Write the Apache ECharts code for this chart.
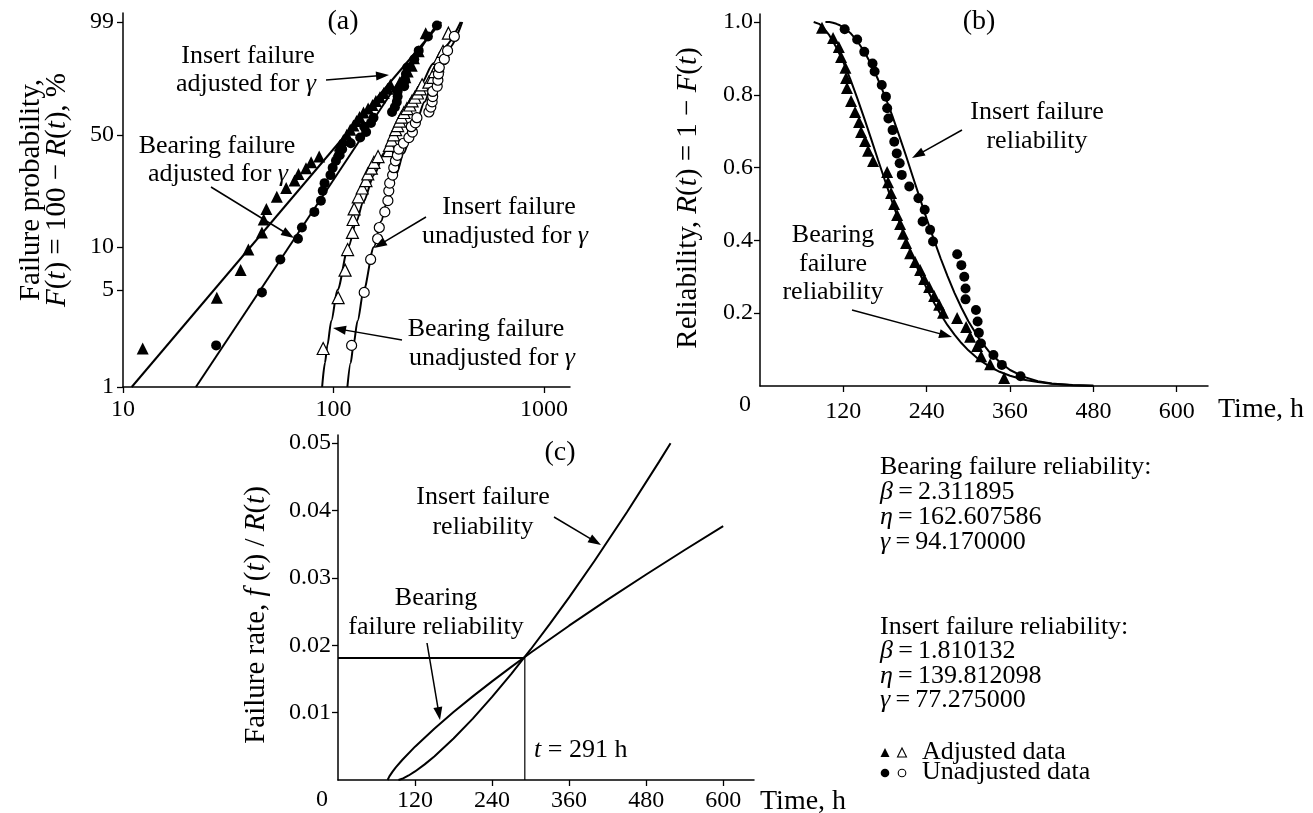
<!DOCTYPE html>
<html><head><meta charset="utf-8">
<script src="https://cdn.jsdelivr.net/npm/echarts@6/dist/echarts.min.js"></script>
<style>html,body{margin:0;padding:0;background:#fff}#c{width:1313px;height:813px}</style>
</head><body><div id="c"></div>
<script>
// ---------------- data ----------------
// tick labels
const aTickT = [10, 100, 1000];          // panel (a) time ticks (log)
const aTickF = [1, 5, 10, 50, 99];       // panel (a) failure probability ticks, %
const bTickT = [120, 240, 360, 480, 600];
const bTickR = [0.2, 0.4, 0.6, 0.8, 1.0];
const cTickT = [120, 240, 360, 480, 600];
const cTickH = [0.01, 0.02, 0.03, 0.04, 0.05];

// triangle data (time, h) unadjusted; adjusted; failure prob %; reliability
const triT    = [89.3,105.2,113.5,116.7,123.0,123.9,125.3,131.1,136.9,142.6,145.5,151.3,155.6,162.8,183.0,184.4,188.7,193.0,197.4,201.7,206.0,210.3,216.1,223.3,230.5,236.3,243.5,250.7,257.9,263.6,283.8,296.8,302.5,312.6,318.4,331.3,351.5];
const triTadj = [12.4,27.9,36.2,39.4,45.7,46.6,48.0,53.8,59.6,65.3,68.2,74.0,78.3,85.5,105.7,107.1,111.4,115.7,120.1,124.4,128.7,133.0,138.8,146.0,153.2,159.0,166.2,173.4,180.6,186.3,206.5,219.5,225.2,235.3,241.1,254.0,274.2];
const triF    = [1.9,4.4,6.9,9.6,12.6,15.4,18.1,21.7,24.7,27.5,30.2,32.7,35.4,38.2,41.2,44.0,47.0,50.0,53.0,55.5,58.2,60.7,63.5,65.9,68.1,70.6,72.8,75.3,77.7,79.9,81.3,83.8,86.5,89.0,91.8,94.0,97.8];
const triR    = [0.984,0.956,0.931,0.904,0.874,0.846,0.819,0.783,0.753,0.725,0.698,0.673,0.646,0.618,0.588,0.560,0.530,0.500,0.470,0.445,0.418,0.393,0.365,0.341,0.319,0.294,0.272,0.247,0.223,0.201,0.187,0.162,0.135,0.110,0.082,0.060,0.022];

// circle data
const cirT    = [121.9,139.9,150.1,162.0,165.0,175.3,181.3,183.1,184.9,190.9,193.3,196.9,201.1,204.1,214.9,228.1,237.1,234.1,244.9,249.1,283.9,289.9,294.1,295.9,295.9,310.9,313.3,315.1,318.1,336.1,348.2,375.1];
const cirF    = [2.0,4.8,8.2,11.4,13.6,17.3,20.5,23.7,26.5,29.7,32.9,36.1,38.8,42.0,45.2,48.4,51.6,54.8,57.1,60.3,63.8,66.8,70.0,73.2,76.2,79.1,82.3,85.4,88.3,91.5,94.2,97.3];
const cirR    = [0.980,0.952,0.918,0.886,0.864,0.827,0.795,0.763,0.735,0.703,0.671,0.639,0.612,0.580,0.548,0.516,0.484,0.452,0.429,0.397,0.362,0.332,0.300,0.268,0.238,0.209,0.177,0.146,0.117,0.085,0.058,0.027];
const cirTadj = [27.7,45.7,55.9,67.8,70.8,81.1,87.1,88.9,90.7,96.7,99.1,102.7,106.9,109.9,120.7,133.9,142.9,139.9,150.7,154.9,189.7,195.7,199.9,201.7,201.7,216.7,219.1,220.9,223.9,241.9,254.0,280.9,310.0];
const cirFadj = [2.0,4.8,8.2,11.4,13.6,17.3,20.5,23.7,26.5,29.7,32.9,36.1,38.8,42.0,45.2,48.4,51.6,54.8,57.1,60.3,63.8,66.8,70.0,73.2,76.2,79.1,82.3,85.4,88.3,91.5,94.2,97.3,98.7];

// panel (a) fitted lines
const aInsAdjT  = [11.0, 325.0];
const aInsAdjF  = [1, 99];
const aBearAdjT = [22.2, 314.7];
const aBearAdjF = [1, 99];
const aCurveF   = [1,1.5,2,3,5,10,15,20,30,40,50,60,70,80,90,95,99];
const aInsUnT   = [88.3,91.1,93.5,97.6,104.4,117.6,128.5,138.3,156.4,173.8,191.5,210.5,232.2,259.1,298.9,333.6,402.3];
const aBearUnT  = [116.4,120.7,124.3,130.1,139.2,155.6,168.3,179.2,198.3,215.8,232.9,250.8,270.4,294.0,327.4,355.5,408.9];

// panel (b) reliability curves
const bInsT  = [77.3,80,85,90,100,110,120,130,140,150,160,170,180,190,200,210,220,230,240,250,260,270,280,290,300,315,330,345,360,380,400,420,450,480];
const bInsR  = [1.0,0.999,0.995,0.987,0.963,0.930,0.890,0.843,0.791,0.736,0.679,0.621,0.564,0.508,0.454,0.403,0.354,0.309,0.268,0.231,0.197,0.167,0.141,0.118,0.098,0.073,0.054,0.039,0.028,0.017,0.011,0.006,0.003,0.001];
const bBearT = [94.2,100,105,110,115,120,130,140,150,160,170,180,190,200,210,220,230,240,250,260,270,280,290,300,315,330,345,360,380,400,420,450,480];
const bBearR = [1.0,1.0,0.998,0.995,0.991,0.986,0.970,0.948,0.919,0.884,0.842,0.796,0.745,0.690,0.634,0.575,0.517,0.459,0.404,0.351,0.302,0.256,0.215,0.178,0.131,0.094,0.066,0.044,0.025,0.013,0.007,0.002,0.001];

// panel (c) failure rate curves
const cSteepT = [94.2,100,110,120,135,150,180,210,240,270,300,330,360,400,450,500,518];
const cSteepH = [0,0.00018,0.00067,0.00127,0.00232,0.0035,0.00615,0.00911,0.01233,0.01576,0.01937,0.02316,0.0271,0.03258,0.03973,0.04721,0.04997];
const cShalT  = [77.3,80,85,90,100,120,150,180,210,240,270,300,360,420,480,540,600];
const cShalH  = [0,0.00053,0.00124,0.00186,0.00297,0.00495,0.00762,0.01009,0.01241,0.01464,0.01679,0.01888,0.0229,0.02677,0.0305,0.03413,0.03768];
const cRefT = [0, 291];
const cRefH = [0.0181, 0];

// ---------------- helpers ----------------
const FONT = "'Liberation Serif','Times New Roman',serif";
const lg = v => Math.log10(v);
const wb = F => Math.log(-Math.log(1 - F / 100));
const zip = (xs, ys, fx, fy) => xs.map((x, i) => [fx ? fx(x) : x, fy ? fy(ys[i]) : ys[i]]);

function axisBase(gi, ticks, fmt, margin, fontSize) {
  return {
    gridIndex: gi, type: 'value',
    axisLine: { show: true, onZero: false, lineStyle: { color: '#000', width: 1.5 } },
    axisTick: { show: true, customValues: ticks, length: 6, lineStyle: { color: '#000', width: 1.3 } },
    axisLabel: { show: true, customValues: ticks, formatter: fmt, margin: margin, color: '#000', fontFamily: FONT, fontSize: fontSize || 24 },
    splitLine: { show: false }
  };
}
function lineS(xi, data, smooth, w) {
  const s = { type: 'line', xAxisIndex: xi, yAxisIndex: xi, data: data, symbol: 'none', smooth: smooth ? 0.3 : false,
    lineStyle: { color: '#000', width: w || 2 }, silent: true, z: 2, clip: false };
  if (smooth) s.smoothMonotone = 'x';
  return s;
}
function scat(xi, data, sym, filled) {
  return { type: 'scatter', xAxisIndex: xi, yAxisIndex: xi, data: data, symbol: sym,
    symbolSize: sym === 'triangle' ? 12 : 10,
    itemStyle: filled ? { color: '#000', opacity: 1 } : { color: '#fff', borderColor: '#000', borderWidth: 1.2, opacity: 1 },
    silent: true, z: 3 };
}
function T(x, y, s, size, opt) {
  opt = opt || {};
  const al = opt.align || 'center';
  return { type: 'text', x: x, y: y, rotation: opt.rot || 0, z: 100,
    style: { text: s, fontFamily: FONT, fontSize: size, fill: '#000',
      textAlign: al, align: al, textVerticalAlign: 'middle', verticalAlign: 'middle',
      rich: { i: { fontStyle: 'italic', fontFamily: FONT, fontSize: size, fill: '#000' } } } };
}
function arrow(x1, y1, x2, y2) {
  const L = 13, W = 4.5;
  const dx = x2 - x1, dy = y2 - y1, d = Math.hypot(dx, dy), ux = dx / d, uy = dy / d;
  const bx = x2 - ux * L, by = y2 - uy * L;
  return [
    { type: 'line', z: 100, shape: { x1: x1, y1: y1, x2: bx + ux * 2, y2: by + uy * 2 }, style: { stroke: '#000', lineWidth: 1.5 } },
    { type: 'polygon', z: 100, shape: { points: [[x2, y2], [bx - uy * W, by + ux * W], [bx + uy * W, by - ux * W]] }, style: { fill: '#000' } }
  ];
}

// ---------------- option ----------------
const aYfmt = v => { for (const f of aTickF) if (Math.abs(wb(f) - v) < 1e-6) return String(f); return ''; };
const aXfmt = v => { for (const t of aTickT) if (Math.abs(lg(t) - v) < 1e-6) return String(t); return ''; };

const xa0 = axisBase(0, aTickT.map(lg), aXfmt, 11); xa0.min = 1; xa0.max = 3.1235;
const ya0 = axisBase(0, aTickF.map(wb), aYfmt, 9);  ya0.min = wb(1); ya0.max = 1.678;
const xa1 = axisBase(1, bTickT, v => String(v), 14); xa1.min = 0; xa1.max = 645;
const ya1 = axisBase(1, bTickR, v => v.toFixed(1), 7); ya1.min = 0; ya1.max = 1.022;
const xa2 = axisBase(2, cTickT, v => String(v), 9);  xa2.min = 0; xa2.max = 648;
const ya2 = axisBase(2, cTickH, v => v.toFixed(2), 7); ya2.min = 0; ya2.max = 0.0512;

const series = [
  // (a)
  lineS(0, zip(aInsAdjT, aInsAdjF, lg, wb), false),
  lineS(0, zip(aBearAdjT, aBearAdjF, lg, wb), false),
  lineS(0, zip(aInsUnT, aCurveF, lg, wb), true),
  lineS(0, zip(aBearUnT, aCurveF, lg, wb), true),
  scat(0, zip(triT, triF, lg, wb), 'triangle', false),
  scat(0, zip(cirT, cirF, lg, wb), 'circle', false),
  scat(0, zip(triTadj, triF, lg, wb), 'triangle', true),
  scat(0, zip(cirTadj, cirFadj, lg, wb), 'circle', true),
  // (b)
  lineS(1, zip(bInsT, bInsR), false),
  lineS(1, zip(bBearT, bBearR), false),
  scat(1, zip(triT, triR), 'triangle', true),
  scat(1, zip(cirT, cirR), 'circle', true),
  // (c)
  lineS(2, zip(cSteepT, cSteepH), false),
  lineS(2, zip(cShalT, cShalH), false),
  lineS(2, [[cRefT[0], cRefH[0]], [cRefT[1], cRefH[0]]], false, 2),
  lineS(2, [[cRefT[1], cRefH[0]], [cRefT[1], cRefH[1]]], false, 1.2)
];

const g = [];
// panel (a) texts
g.push(T(343, 22, '(a)', 28));
g.push(T(248, 56, 'Insert failure', 26));
g.push(T(246, 84, 'adjusted for {i|γ}', 26));
g.push(T(217, 146, 'Bearing failure', 26));
g.push(T(218, 174, 'adjusted for {i|γ}', 26));
g.push(T(509, 207, 'Insert failure', 26));
g.push(T(505, 236, 'unadjusted for {i|γ}', 26));
g.push(T(486, 329, 'Bearing failure', 26));
g.push(T(492, 358, 'unadjusted for {i|γ}', 26));
g.push(...arrow(326, 80, 389, 75));
g.push(...arrow(211, 187, 294, 238));
g.push(...arrow(426, 217, 374, 248));
g.push(...arrow(402, 340, 333, 328));
g.push(T(31, 190, 'Failure probability,', 29, { rot: Math.PI / 2 }));
g.push(T(57, 190, '{i|F}({i|t}) = 100 − {i|R}({i|t}), %', 29, { rot: Math.PI / 2 }));
// panel (b) texts
g.push(T(979, 22, '(b)', 28));
g.push(T(1037, 112, 'Insert failure', 26));
g.push(T(1037, 141, 'reliability', 26));
g.push(T(833, 235, 'Bearing', 26));
g.push(T(833, 264, 'failure', 26));
g.push(T(833, 292, 'reliability', 26));
g.push(...arrow(962, 130, 912, 158));
g.push(...arrow(852, 310, 952, 337));
g.push(T(688, 198, 'Reliability, {i|R}({i|t}) = 1 − {i|F}({i|t})', 29, { rot: Math.PI / 2 }));
g.push(T(745, 405, '0', 24));
g.push(T(1218, 410, 'Time, h', 28, { align: 'left' }));
// panel (c) texts
g.push(T(560, 453, '(c)', 28));
g.push(T(483, 497, 'Insert failure', 26));
g.push(T(483, 527, 'reliability', 26));
g.push(T(436, 598, 'Bearing', 26));
g.push(T(436, 627, 'failure reliability', 26));
g.push(...arrow(554, 517, 601, 545));
g.push(...arrow(427, 643, 440, 720));
g.push(T(534, 750, '{i|t} = 291 h', 26, { align: 'left' }));
g.push(T(256, 615, 'Failure rate, {i|f} ({i|t}) / {i|R}({i|t})', 29, { rot: Math.PI / 2 }));
g.push(T(322, 800, '0', 24));
g.push(T(760, 802, 'Time, h', 28, { align: 'left' }));
// parameter block
const bx = 880;
g.push(T(bx, 467, 'Bearing failure reliability:', 26, { align: 'left' }));
g.push(T(bx, 492, '{i|β}\u2009=\u20092.311895', 26, { align: 'left' }));
g.push(T(bx, 517, '{i|η}\u2009=\u2009162.607586', 26, { align: 'left' }));
g.push(T(bx, 542, '{i|γ}\u2009=\u200994.170000', 26, { align: 'left' }));
g.push(T(bx, 627, 'Insert failure reliability:', 26, { align: 'left' }));
g.push(T(bx, 651, '{i|β}\u2009=\u20091.810132', 26, { align: 'left' }));
g.push(T(bx, 676, '{i|η}\u2009=\u2009139.812098', 26, { align: 'left' }));
g.push(T(bx, 700, '{i|γ}\u2009=\u200977.275000', 26, { align: 'left' }));
g.push({ type: 'polygon', z: 100, shape: { points: [[885, 748], [880.5, 757], [889.5, 757]] }, style: { fill: '#000' } });
g.push({ type: 'polygon', z: 100, shape: { points: [[902, 748], [897.5, 757], [906.5, 757]] }, style: { fill: '#fff', stroke: '#000', lineWidth: 1.1 } });
g.push({ type: 'circle', z: 100, shape: { cx: 885, cy: 773, r: 4.3 }, style: { fill: '#000' } });
g.push({ type: 'circle', z: 100, shape: { cx: 902, cy: 773, r: 3.8 }, style: { fill: '#fff', stroke: '#000', lineWidth: 1.1 } });
g.push(T(922, 752, 'Adjusted data', 26, { align: 'left' }));
g.push(T(922, 772, 'Unadjusted data', 26, { align: 'left' }));

const option = {
  animation: false,
  backgroundColor: '#fff',
  grid: [
    { left: 123, top: 13, width: 447, height: 374 },
    { left: 760, top: 14, width: 448, height: 372 },
    { left: 338, top: 435, width: 416, height: 345 }
  ],
  xAxis: [xa0, xa1, xa2],
  yAxis: [ya0, ya1, ya2],
  series: series,
  graphic: { elements: g }
};
echarts.init(document.getElementById('c'), null, { renderer: 'canvas' }).setOption(option);
</script></body></html>
